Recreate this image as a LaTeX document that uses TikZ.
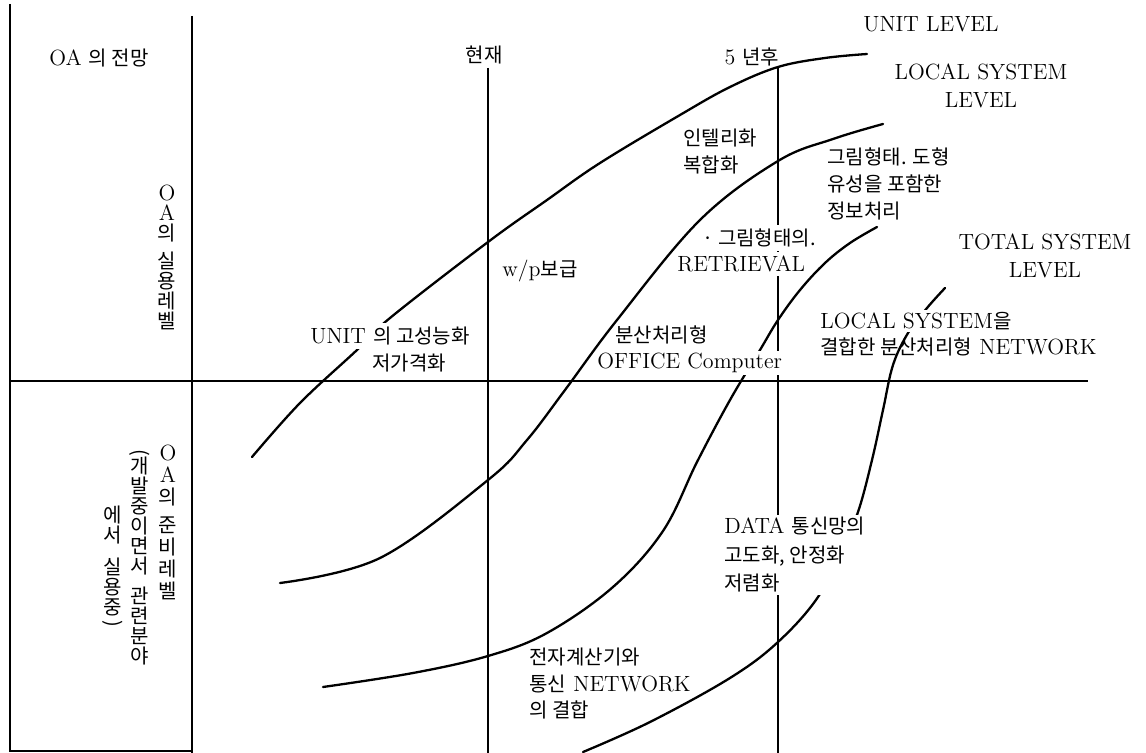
\documentclass[tikz,border=0pt]{standalone}
\usepackage{fontspec}
\usepackage{graphicx}
\newfontfamily\kr[Scale=0.91]{Noto Sans CJK KR}
\newcommand{\K}[1]{{\kr #1}}
\newcommand{\vopen}{\rotatebox[origin=c]{-90}{(}}
\newcommand{\vclose}{\rotatebox[origin=c]{-90}{)}}
\newcommand{\vfontA}{\fontsize{11}{10}\selectfont\lineskiplimit -20pt\relax\kr}
\newcommand{\vfontB}{\fontsize{11}{11}\selectfont\lineskiplimit -20pt\relax\kr}
\begin{document}
\begin{tikzpicture}[x=0.5pt,y=-0.5pt,
  frameline/.style={line width=1pt},
  axisline/.style={line width=0.8pt},
  curve/.style={line width=1.15pt, line cap=round},
  lab/.style={font={\fontsize{11}{14}\selectfont}, inner sep=1pt},
  lbl/.style={lab, anchor=west, align=left},
  wht/.style={fill=white},
  vcol/.style={font={\vfontA}, align=center, inner sep=0pt},
]
\useasboundingbox (0,0) rectangle (1146,753);

% frame and axes
\draw[frameline] (10,4) -- (10,751) -- (192,751);
\draw[frameline] (192,16) -- (192,753);
\draw[axisline] (10,381) -- (1088,381);
\draw[axisline] (488,68) -- (488,753);
\draw[axisline] (778,67) -- (778,753);

% curves
\draw[curve] plot[smooth, tension=0.6] coordinates {(252,457) (300,403) (357,350) (390,318) (488,242) (547,200) (600,163) (680,115) (730,87) (778,67) (825,58) (867,54)};
\draw[curve] plot[smooth, tension=0.6] coordinates {(280,583) (380,558) (488,480) (527,440) (565,390) (617,320) (700,220) (778,161) (833,139) (883,124)};
\draw[curve] plot[smooth, tension=0.6] coordinates {(323,687) (413,673) (488,656) (547,633) (613,587) (663,531) (697,462) (730,400) (760,350) (778,320) (800,290) (825,263) (850,243) (877,227)};
\draw[curve] plot[smooth, tension=0.6] coordinates {(583,752) (650,722) (730,678) (778,642) (818,597) (842,547) (858,512) (872,460) (883,410) (893,365) (908,333) (927,308) (945,288)};

% left column texts
\node[lab, anchor=west] (oa) at (47,58) {OA \K{의 전망}};
\node[vcol] (col1) at (167,257) {\textrm{O}\\\textrm{A}\\의\\[4pt]실\\용\\레\\벨};
\node[vcol, font={\vfontB}] (col2) at (168,522) {\textrm{O}\\\textrm{A}\\의\\[3pt]준\\비\\레\\벨};
\node[vcol] (col3) at (140,557) {\vopen\\[-3pt]개\\발\\중\\이\\면\\서\\[5pt]관\\련\\분\\야};
\node[vcol] (col4) at (113,568) {에\\서\\[6pt]실\\용\\중\\[-2pt]\vclose};

% top labels
\node[lab] (now) at (484,55) {\K{현재}};
\node[lab] (five) at (752,57) {5 \K{년후}};
\node[lab] (unitlevel) at (931,24) {UNIT LEVEL};
\node[lab, align=center] (locallevel) at (981,86) {LOCAL SYSTEM\\LEVEL};
\node[lab, align=center] (totallevel) at (1045,256) {TOTAL SYSTEM\\LEVEL};

% curve labels
\node[lbl, font={\fontsize{11}{13.5}\selectfont}] (intel) at (681,152) {\K{인텔리화}\\\K{복합화}};
\node[lbl, font={\fontsize{11}{13.5}\selectfont}] (image) at (825,184) {\K{그림형태. 도형}\\\K{유성을 포함한}\\\K{정보처리}};
\node[lbl, wht, inner ysep=2pt] (imgret1) at (700,238) {\K{· 그림형태의.}};
\node[lbl, wht, inner xsep=0pt, inner ysep=2pt] (ret) at (677,264) {RETRIEVAL};
\node[lbl] (wp) at (500,271) {w/p\K{보급}};
\node[lbl, wht, inner ysep=2pt] (unit1) at (308,336) {UNIT \K{의 고성능화}};
\node[lbl] (unit2) at (370,363) {\K{저가격화}};
\node[lbl] (dist1) at (613,335) {\K{분산처리형}};
\node[lbl, wht, inner xsep=0pt] (dist2) at (597,363) {OFFICE Computer};
\node[lbl, wht] (ls1) at (818,321) {LOCAL SYSTEM\K{을}};
\node[lbl] (ls2) at (818,347) {\K{결합한 분산처리형} NETWORK};
\node[lbl, wht, font={\fontsize{11}{14.25}\selectfont}] (data) at (722,555) {DATA \K{통신망의}\\\K{고도화, 안정화}\\\K{저렴화}};
\node[lbl, font={\fontsize{11}{13.25}\selectfont}] (comp) at (527,684) {\K{전자계산기와}\\\K{통신} NETWORK\\\K{의 결합}};
\end{tikzpicture}
\end{document}
